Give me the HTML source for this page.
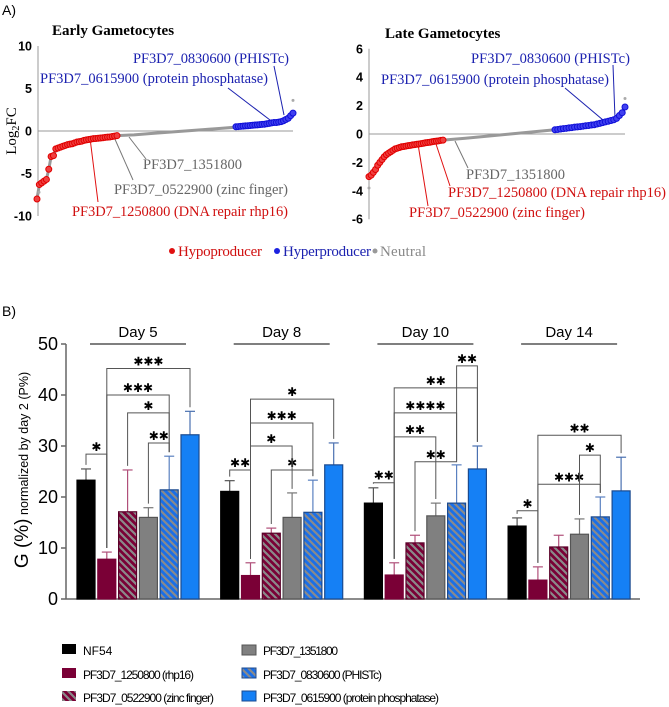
<!DOCTYPE html>
<html><head><meta charset="utf-8">
<style>
html,body{margin:0;padding:0;background:#fff;}
svg{display:block;}
.serif{font-family:"Liberation Serif",serif;}
.sans{font-family:"Liberation Sans",sans-serif;}
</style></head>
<body>
<svg id="fig" width="669" height="707" viewBox="0 0 669 707" xmlns="http://www.w3.org/2000/svg">
<defs>
<pattern id="hatchM" patternUnits="userSpaceOnUse" width="7" height="7">
<rect width="7" height="7" fill="#7a0036"/>
<path d="M-2,-2 L9,9 M-2,5 L2,9 M5,-2 L9,2" stroke="#8a8a8a" stroke-width="2.2"/>
</pattern>
<pattern id="hatchB" patternUnits="userSpaceOnUse" width="7" height="7">
<rect width="7" height="7" fill="#1a6fe8"/>
<path d="M-2,-2 L9,9 M-2,5 L2,9 M5,-2 L9,2" stroke="#8a8a8a" stroke-width="2.2"/>
</pattern>
</defs>

<text x="2" y="15" class="sans" font-size="14">A)</text>
<text x="52" y="35" class="serif" font-size="15" font-weight="bold">Early Gametocytes</text>
<text x="385" y="38" class="serif" font-size="15" font-weight="bold">Late Gametocytes</text>
<text transform="translate(16,131) rotate(-90)" text-anchor="middle" class="serif" font-size="15">Log<tspan font-size="10" dy="3">2</tspan><tspan dy="-3">FC</tspan></text>

<g class="serif" font-size="14.5">
<text x="133" y="63" fill="#1c22b0" textLength="156">PF3D7_0830600 (PHISTc)</text>
<text x="40" y="83" fill="#1c22b0" textLength="228">PF3D7_0615900 (protein phosphatase)</text>
<text x="143" y="169" fill="#666" textLength="99">PF3D7_1351800</text>
<text x="114" y="194" fill="#666" textLength="174">PF3D7_0522900 (zinc finger)</text>
<text x="72" y="216" fill="#d01010" textLength="216">PF3D7_1250800 (DNA repair rhp16)</text>
<line x1="274" y1="66" x2="284" y2="115" stroke="#1c22b0"/>
<line x1="228" y1="88" x2="270" y2="120" stroke="#1c22b0"/>
<line x1="146" y1="159" x2="129" y2="137" stroke="#777"/>
<line x1="133" y1="180" x2="114" y2="137" stroke="#777"/>
<line x1="98" y1="202" x2="90" y2="138" stroke="#e01010"/>
</g>
<g class="serif" font-size="14.5">
<text x="471" y="63" fill="#1c22b0" textLength="159">PF3D7_0830600 (PHISTc)</text>
<text x="381" y="84" fill="#1c22b0" textLength="228">PF3D7_0615900 (protein phosphatase)</text>
<text x="466" y="179" fill="#666" textLength="99">PF3D7_1351800</text>
<text x="448" y="197" fill="#d01010" textLength="218">PF3D7_1250800 (DNA repair rhp16)</text>
<text x="409" y="217" fill="#d01010" textLength="176">PF3D7_0522900 (zinc finger)</text>
<line x1="613" y1="65" x2="615" y2="118" stroke="#1c22b0"/>
<line x1="565" y1="88" x2="603" y2="120" stroke="#1c22b0"/>
<line x1="468" y1="168" x2="455" y2="141" stroke="#777"/>
<line x1="450" y1="186" x2="436" y2="144" stroke="#e01010"/>
<line x1="428" y1="206" x2="418" y2="144" stroke="#e01010"/>
</g>

<g class="serif" font-size="15">
<circle cx="172" cy="251" r="3" fill="#e01010"/>
<text x="178" y="256" fill="#d01010" textLength="84">Hypoproducer</text>
<circle cx="277" cy="251" r="3" fill="#1c22e0"/>
<text x="283" y="256" fill="#1c22b0" textLength="88">Hyperproducer</text>
<circle cx="375" cy="251" r="2.5" fill="#999"/>
<text x="380" y="256" fill="#888" textLength="46">Neutral</text>
</g>

<text x="2" y="316" class="sans" font-size="14">B)</text>
<text transform="translate(28,470) rotate(-90)" text-anchor="middle" class="sans"><tspan font-size="19">G (%)</tspan><tspan font-size="12.5"> normalized by day 2  (P%)</tspan></text>

<g id="gA"></g>
<g id="gB"></g>

<g class="sans" font-size="12">
<rect x="62" y="644" width="14" height="10" fill="#000"/>
<text x="83" y="655">NF54</text>
<rect x="62" y="668" width="14" height="10" fill="#7a0036"/>
<text x="83" y="679" textLength="111">PF3D7_1250800 (rhp16)</text>
<rect x="62" y="691" width="14" height="10" fill="url(#hatchM)"/>
<text x="83" y="702" textLength="131">PF3D7_0522900 (zinc finger)</text>
<rect x="242" y="645" width="14" height="10" fill="#808080" stroke="#555"/>
<text x="263" y="655" textLength="75">PF3D7_1351800</text>
<rect x="242" y="668" width="14" height="10" fill="url(#hatchB)" stroke="#1a4a90"/>
<text x="263" y="679" textLength="119">PF3D7_0830600 (PHISTc)</text>
<rect x="242" y="691" width="14" height="10" fill="#1580f5" stroke="#1a4a90"/>
<text x="263" y="702" textLength="176">PF3D7_0615900 (protein phosphatase)</text>
</g>
</svg>

<script>
const earlyTicks = [10, 5, 0, -5, -10];
const lateTicks = [6, 4, 2, 0, -2, -4, -6];
const earlyRed = [-8.0,-6.3,-6.1,-5.9,-5.7,-4.5,-3.0,-2.9,-2.1,-2.0,-1.9,-1.8,-1.7,-1.6,-1.55,-1.5,-1.4,-1.3,-1.25,-1.2,-1.1,-1.05,-1.0,-0.95,-0.9,-0.88,-0.85,-0.82,-0.8,-0.75,-0.72,-0.7,-0.65,-0.6,-0.55];
const earlyGray = [-0.55,-0.45,-0.3,-0.15,0.0,0.15,0.3,0.45];
const earlyBlue = [0.5,0.52,0.55,0.57,0.6,0.62,0.65,0.68,0.7,0.72,0.75,0.78,0.8,0.85,0.9,0.95,1.0,1.0,1.05,1.1,1.2,1.35,1.5,1.8,2.1];
const lateRed = [-3.0,-2.9,-2.7,-2.5,-2.2,-2.0,-1.8,-1.6,-1.45,-1.35,-1.25,-1.15,-1.05,-1.0,-0.95,-0.9,-0.88,-0.85,-0.82,-0.8,-0.77,-0.75,-0.72,-0.7,-0.68,-0.65,-0.62,-0.6,-0.58,-0.55,-0.52,-0.5,-0.48,-0.45,-0.43];
const lateGray = [-0.43,-0.3,-0.15,0.0,0.15,0.3];
const lateBlue = [0.3,0.32,0.35,0.38,0.4,0.43,0.45,0.48,0.5,0.52,0.55,0.58,0.6,0.63,0.65,0.7,0.75,0.8,0.85,0.9,0.95,1.0,1.1,1.3,1.5,1.9];

const days = ["Day 5", "Day 8", "Day 10", "Day 14"];
const strains = ["NF54", "rhp16", "zinc-finger", "1351800", "phistc", "phosphatase"];
const valNF54 = [23.3, 21.1, 18.8, 14.3];
const valRhp16 = [7.8, 4.6, 4.7, 3.7];
const valZinc = [17.1, 12.9, 11.0, 10.2];
const val1351800 = [16.0, 16.0, 16.3, 12.7];
const valPhist = [21.4, 17.0, 18.8, 16.1];
const valPhos = [32.2, 26.3, 25.5, 21.2];
const errNF54 = [2.2, 2.1, 3.0, 1.6];
const errRhp16 = [1.4, 2.5, 2.4, 2.6];
const errZinc = [8.2, 1.0, 1.5, 2.3];
const err1351800 = [1.9, 4.8, 2.5, 3.0];
const errPhist = [6.6, 6.3, 7.5, 3.9];
const errPhos = [4.6, 4.3, 4.5, 6.6];
const yTicksB = [0, 10, 20, 30, 40, 50];
const brDay = [0,0,0,0,0, 1,1,1,1,1, 2,2,2,2,2,2, 3,3,3,3];
const brA =   [0,3,2,1,1, 0,2,1,1,1, 0,2,1,1,1,4, 0,1,3,1];
const brB =   [1,4,4,4,5, 1,4,3,4,5, 1,4,3,4,5,5, 1,4,4,5];
const brY =   [28.4,30.6,36.5,40.0,45.2, 25.3,25.3,30.0,34.5,39.2, 22.8,26.9,31.8,36.5,41.4,45.7, 17.3,22.5,28.2,32.1];
const brLab = ["*","**","*","***","***", "**","*","*","***","*", "**","**","**","****","**","**", "*","***","*","**"];

const NS = "http://www.w3.org/2000/svg";
function mk(tag, attrs, parent) {
  const e = document.createElementNS(NS, tag);
  for (const k in attrs) e.setAttribute(k, attrs[k]);
  parent.appendChild(e);
  return e;
}

const gA = document.getElementById("gA");
function drawVolcano(name, axX, x0, x1, y0, pxPerUnit, ticks, red, gray, blue, redEnd, blueStart, outliers) {
  const y = v => y0 - v * pxPerUnit;
  const g = mk("g", {}, gA);
  
  
  const ax = mk("line", {x1: axX, x2: axX, y1: y(ticks[0]), y2: y(ticks[ticks.length-1]), stroke: "#999", "stroke-width": 1}, g);
  
  
  const zl = mk("line", {x1: axX, x2: x1, y1: y(0), y2: y(0), stroke: "#999", "stroke-width": 1}, g);
  
  
  ticks.forEach(t => {
    const tx = mk("text", {x: axX - 6, y: y(t) + 4.5, "text-anchor": "end", "font-size": 12.5, "font-weight": "bold", "font-family": "Liberation Sans, sans-serif"}, g);
    tx.textContent = t;
    
    
  });
  const xs = (arr, a, b) => arr.map((v, i) => a + (b - a) * i / Math.max(1, arr.length - 1));
  const rx = xs(red, x0, redEnd), gx = xs(gray, redEnd, blueStart), bx = xs(blue, blueStart, x1);
  const all = [];
  red.forEach((v, i) => all.push([rx[i], y(v)]));
  gray.forEach((v, i) => all.push([gx[i], y(v)]));
  blue.forEach((v, i) => all.push([bx[i], y(v)]));
  const pl = mk("polyline", {points: all.map(p => p.join(",")).join(" "), fill: "none", stroke: "#999", "stroke-width": 3}, g);
  
  
  outliers.forEach(o => {
    const c = mk("circle", {cx: o[0], cy: y(o[1]), r: 1.5, fill: "#aaa"}, g);
    
    
  });
  red.forEach((v, i) => {
    const c = mk("circle", {cx: rx[i], cy: y(v), r: 3, fill: "#f04040", stroke: "#e00000", "stroke-width": 1}, g);
    
    
  });
  blue.forEach((v, i) => {
    const c = mk("circle", {cx: bx[i], cy: y(v), r: 3, fill: "#4040f0", stroke: "#1010d8", "stroke-width": 1}, g);
    
    
  });
}
drawVolcano("early", 38, 37, 293, 131, 8.5, earlyTicks, earlyRed, earlyGray, earlyBlue, 117, 236, [[293, 3.6], [39, -7.2]]);
drawVolcano("late", 369, 369, 625, 134, 14.2, lateTicks, lateRed, lateGray, lateBlue, 443, 555, [[625, 2.5], [369, -3.8]]);

const gB = document.getElementById("gB");
const vals = [valNF54, valRhp16, valZinc, val1351800, valPhist, valPhos];
const errs = [errNF54, errRhp16, errZinc, err1351800, errPhist, errPhos];
const fills = ["#000", "#7a0036", "url(#hatchM)", "#808080", "url(#hatchB)", "#1580f5"];
const strokes = ["#000", "#7a0036", "#5a0028", "#555", "#1a4a90", "#1a4a90"];
const errCol = ["#555", "#b0507a", "#b0507a", "#777", "#5a80c0", "#4a70b0"];
const yB = v => 599 - v * 5.1;
const groupX = d => 77 + d * 143.7;
const barX = (d, s) => groupX(d) + s * 20.8;
const BW = 18;

const yax = mk("line", {x1: 66, x2: 66, y1: yB(50), y2: yB(0), stroke: "#666", "stroke-width": 1.5}, gB);


const xax = mk("line", {x1: 66, x2: 640, y1: yB(0), y2: yB(0), stroke: "#666", "stroke-width": 1.5}, gB);


yTicksB.forEach(t => {
  const tl = mk("line", {x1: 61, x2: 66, y1: yB(t), y2: yB(t), stroke: "#666", "stroke-width": 1.5}, gB);
  
  
  const tx = mk("text", {x: 58, y: yB(t) + 6, "text-anchor": "end", "font-size": 18, "font-family": "Liberation Sans, sans-serif"}, gB);
  tx.textContent = t;
  
  
});

days.forEach((dname, d) => {
  const cx = groupX(d) + (5 * 20.8 + BW) / 2;
  const dl = mk("text", {x: cx, y: 337, "text-anchor": "middle", "font-size": 15, "font-family": "Liberation Sans, sans-serif"}, gB);
  dl.textContent = dname;
  
  
  const ul = mk("line", {x1: cx - 48, x2: cx + 48, y1: 344, y2: 344, stroke: "#333", "stroke-width": 1.2}, gB);
  
  
  strains.forEach((sname, s) => {
    const v = vals[s][d], e = errs[s][d];
    const x = barX(d, s);
    const el = mk("line", {x1: x + BW / 2, x2: x + BW / 2, y1: yB(v), y2: yB(v + e), stroke: errCol[s], "stroke-width": 1.2}, gB);
    
    
    const ec = mk("line", {x1: x + BW / 2 - 5, x2: x + BW / 2 + 5, y1: yB(v + e), y2: yB(v + e), stroke: errCol[s], "stroke-width": 1.2}, gB);
    
    
    const r = mk("rect", {x: x, y: yB(v), width: BW, height: yB(0) - yB(v), fill: fills[s], stroke: strokes[s], "stroke-width": 1.2}, gB);
    
    
  });
});

brDay.forEach((d, i) => {
  const a = brA[i], b = brB[i];
  const xa = barX(d, a) + BW / 2, xb = barX(d, b) + BW / 2;
  const yy = yB(brY[i]);
  const ya = yB(vals[a][d] + errs[a][d] + 0.8), yb2 = yB(vals[b][d] + errs[b][d] + 0.8);
  const p = mk("path", {d: `M${xa},${ya} L${xa},${yy} L${xb},${yy} L${xb},${yb2}`, fill: "none", stroke: "#555", "stroke-width": 1}, gB);
  
  
  const t = mk("text", {x: (xa + xb) / 2, y: yy - 3, "text-anchor": "middle", "font-size": 12, "font-weight": "bold", "font-family": "DejaVu Sans, sans-serif"}, gB);
  t.textContent = brLab[i].replace(/\*/g, "\u2731");
  
  
});
</script>
</body></html>
